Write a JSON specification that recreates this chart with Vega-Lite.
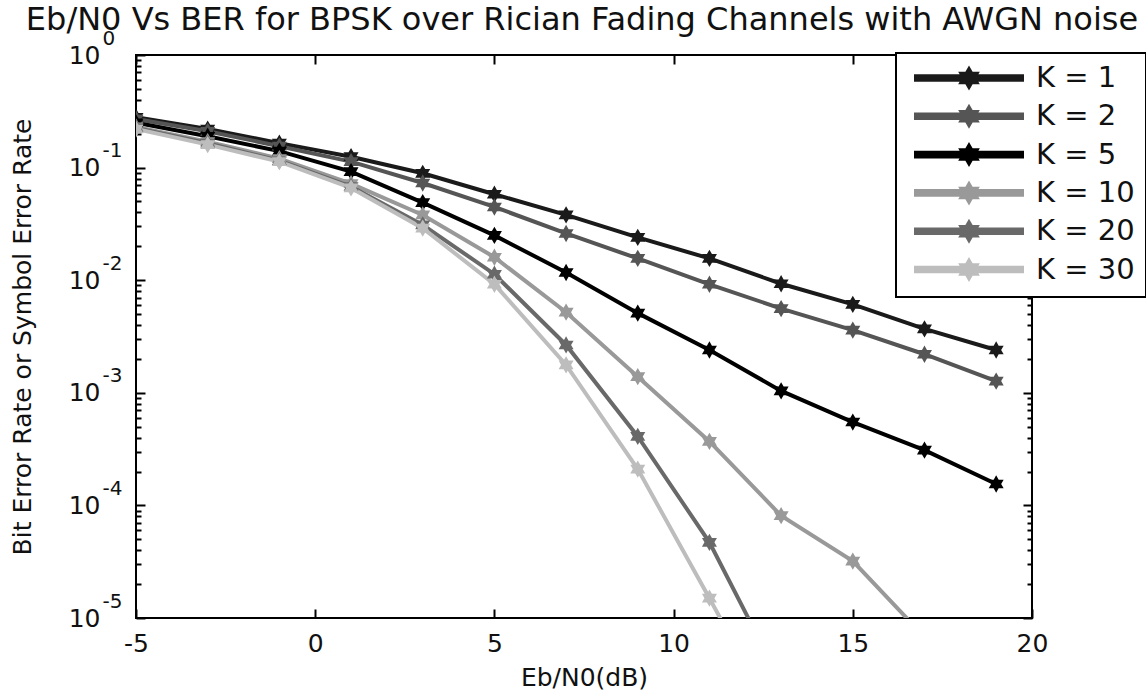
{
  "$schema": "https://vega.github.io/schema/vega-lite/v6.json",
  "width": 896,
  "height": 563,
  "autosize": {"type": "none"},
  "padding": {"left": 136, "top": 55, "right": 114, "bottom": 75},
  "background": "white",
  "title": {
    "text": "Eb/N0 Vs BER for BPSK over Rician Fading Channels with AWGN noise",
    "font": "DejaVu Sans",
    "fontSize": 32,
    "fontWeight": "normal",
    "color": "#111",
    "anchor": "middle",
    "dx": -2,
    "dy": 17,
    "baseline": "bottom",
    "offset": -24
  },
  "data": {
    "values": [
      {"series": "K = 1", "x": -5, "ber": 0.28},
      {"series": "K = 1", "x": -3, "ber": 0.22},
      {"series": "K = 1", "x": -1, "ber": 0.165},
      {"series": "K = 1", "x": 1, "ber": 0.125},
      {"series": "K = 1", "x": 3, "ber": 0.089},
      {"series": "K = 1", "x": 5, "ber": 0.058},
      {"series": "K = 1", "x": 7, "ber": 0.038},
      {"series": "K = 1", "x": 9, "ber": 0.024},
      {"series": "K = 1", "x": 11, "ber": 0.0156},
      {"series": "K = 1", "x": 13, "ber": 0.0093},
      {"series": "K = 1", "x": 15, "ber": 0.0061},
      {"series": "K = 1", "x": 17, "ber": 0.0037},
      {"series": "K = 1", "x": 19, "ber": 0.0024},
      {"series": "K = 2", "x": -5, "ber": 0.27},
      {"series": "K = 2", "x": -3, "ber": 0.21},
      {"series": "K = 2", "x": -1, "ber": 0.155},
      {"series": "K = 2", "x": 1, "ber": 0.113},
      {"series": "K = 2", "x": 3, "ber": 0.073},
      {"series": "K = 2", "x": 5, "ber": 0.0447},
      {"series": "K = 2", "x": 7, "ber": 0.026},
      {"series": "K = 2", "x": 9, "ber": 0.0156},
      {"series": "K = 2", "x": 11, "ber": 0.0092},
      {"series": "K = 2", "x": 13, "ber": 0.0056},
      {"series": "K = 2", "x": 15, "ber": 0.0036},
      {"series": "K = 2", "x": 17, "ber": 0.0022},
      {"series": "K = 2", "x": 19, "ber": 0.00127},
      {"series": "K = 5", "x": -5, "ber": 0.25},
      {"series": "K = 5", "x": -3, "ber": 0.19},
      {"series": "K = 5", "x": -1, "ber": 0.14},
      {"series": "K = 5", "x": 1, "ber": 0.092},
      {"series": "K = 5", "x": 3, "ber": 0.0488},
      {"series": "K = 5", "x": 5, "ber": 0.025},
      {"series": "K = 5", "x": 7, "ber": 0.0117},
      {"series": "K = 5", "x": 9, "ber": 0.0051},
      {"series": "K = 5", "x": 11, "ber": 0.0024},
      {"series": "K = 5", "x": 13, "ber": 0.00104},
      {"series": "K = 5", "x": 15, "ber": 0.00055},
      {"series": "K = 5", "x": 17, "ber": 0.00031},
      {"series": "K = 5", "x": 19, "ber": 0.000155},
      {"series": "K = 10", "x": -5, "ber": 0.23},
      {"series": "K = 10", "x": -3, "ber": 0.17},
      {"series": "K = 10", "x": -1, "ber": 0.12},
      {"series": "K = 10", "x": 1, "ber": 0.072},
      {"series": "K = 10", "x": 3, "ber": 0.038},
      {"series": "K = 10", "x": 5, "ber": 0.016},
      {"series": "K = 10", "x": 7, "ber": 0.0052},
      {"series": "K = 10", "x": 9, "ber": 0.00139},
      {"series": "K = 10", "x": 11, "ber": 0.00037},
      {"series": "K = 10", "x": 13, "ber": 0.000081},
      {"series": "K = 10", "x": 15, "ber": 0.000032},
      {"series": "K = 10", "x": 17, "ber": 0.0000068},
      {"series": "K = 20", "x": -5, "ber": 0.225},
      {"series": "K = 20", "x": -3, "ber": 0.165},
      {"series": "K = 20", "x": -1, "ber": 0.115},
      {"series": "K = 20", "x": 1, "ber": 0.068},
      {"series": "K = 20", "x": 3, "ber": 0.031},
      {"series": "K = 20", "x": 5, "ber": 0.0113},
      {"series": "K = 20", "x": 7, "ber": 0.00266},
      {"series": "K = 20", "x": 9, "ber": 0.00041},
      {"series": "K = 20", "x": 11, "ber": 0.000047},
      {"series": "K = 20", "x": 13, "ber": 0.0000027},
      {"series": "K = 30", "x": -5, "ber": 0.22},
      {"series": "K = 30", "x": -3, "ber": 0.16},
      {"series": "K = 30", "x": -1, "ber": 0.113},
      {"series": "K = 30", "x": 1, "ber": 0.066},
      {"series": "K = 30", "x": 3, "ber": 0.029},
      {"series": "K = 30", "x": 5, "ber": 0.0092},
      {"series": "K = 30", "x": 7, "ber": 0.00177},
      {"series": "K = 30", "x": 9, "ber": 0.00021},
      {"series": "K = 30", "x": 11, "ber": 0.000015},
      {"series": "K = 30", "x": 13, "ber": 0.000001}
    ]
  },
  "layer": [
    {
      "mark": {"type": "line", "clip": true},
      "encoding": {
        "x": {
          "field": "x",
          "type": "quantitative",
          "scale": {"domain": [-5, 20], "nice": false, "zero": false},
          "axis": {
            "orient": "bottom",
            "values": [-5, 0, 5, 10, 15, 20],
            "labelExpr": "'' + datum.value",
            "ticks": false,
            "labelPadding": 13,
            "labelFlush": false,
            "labelOverlap": false,
            "title": "Eb/N0(dB)",
            "titlePadding": 9
          }
        },
        "y": {
          "field": "ber",
          "type": "quantitative",
          "scale": {"type": "log", "domain": [0.00001, 1], "nice": false},
          "axis": {
            "orient": "left",
            "values": [0.00001, 0.0001, 0.001, 0.01, 0.1, 1],
            "labelExpr": "'10'",
            "ticks": false,
            "labelPadding": 36,
            "labelBaseline": "middle",
            "labelOverlap": false,
            "labelBound": false,
            "title": "Bit Error Rate or Symbol Error Rate",
            "titlePadding": 33
          }
        },
        "color": {
          "field": "series",
          "type": "nominal",
          "scale": {
            "domain": ["K = 1", "K = 2", "K = 5", "K = 10", "K = 20", "K = 30"],
            "range": ["#1a1a1a", "#555555", "#000000", "#999999", "#696969", "#bdbdbd"]
          },
          "legend": {
            "orient": "none",
            "legendX": 760,
            "legendY": -2,
            "title": null,
            "symbolType": "M-5.3,-0.18L5.3,-0.18L5.3,0.18L-5.3,0.18Z M0,-0.85L0.246,-0.425L0.736,-0.425L0.49,0L0.736,0.425L0.246,0.425L0,0.85L-0.246,0.425L-0.736,0.425L-0.49,0L-0.736,-0.425L-0.246,-0.425Z",
            "symbolSize": 400,
            "symbolStrokeWidth": 0,
            "symbolOffset": 48,
            "labelOffset": 52.5,
            "labelFont": "DejaVu Sans",
            "labelFontSize": 29,
            "labelColor": "#111",
            "labelLimit": 300,
            "padding": 10.5,
            "rowPadding": 5.3,
            "strokeColor": "#000",
            "fillColor": "#ffffff",
            "encode": {
              "symbols": {
                "update": {
                  "fill": {"scale": "color", "field": "value"},
                  "stroke": {"value": "transparent"},
                  "opacity": {"value": 1}
                }
              }
            }
          }
        },
        "strokeWidth": {
          "field": "series",
          "type": "ordinal",
          "scale": {
            "domain": ["K = 1", "K = 2", "K = 5", "K = 10", "K = 20", "K = 30"],
            "range": [4, 4, 3, 3, 2.5, 2.5]
          },
          "legend": null
        }
      }
    },
    {
      "mark": {
        "type": "point",
        "shape": "M0,-1L0.289,-0.5L0.866,-0.5L0.577,0L0.866,0.5L0.289,0.5L0,1L-0.289,0.5L-0.866,0.5L-0.577,0L-0.866,-0.5L-0.289,-0.5Z",
        "filled": true,
        "size": 300,
        "opacity": 1,
        "clip": true
      },
      "encoding": {
        "x": {"field": "x", "type": "quantitative", "axis": null},
        "y": {"field": "ber", "type": "quantitative", "axis": null},
        "color": {"field": "series", "type": "nominal", "legend": null}
      }
    },
    {
      "mark": {"type": "point", "opacity": 0},
      "encoding": {
        "x": {
          "field": "x",
          "type": "quantitative",
          "axis": {"orient": "top", "values": [-5, 0, 5, 10, 15, 20], "labels": false, "tickSize": -9, "title": null}
        },
        "y": {
          "field": "ber",
          "type": "quantitative",
          "axis": {
            "orient": "left",
            "values": [0.00001, 0.0001, 0.001, 0.01, 0.1, 1],
            "labelExpr": "'' + round(log(datum.value) / LN10)",
            "ticks": false,
            "labelAlign": "left",
            "labelBaseline": "middle",
            "labelPadding": 34,
            "labelOffset": -17,
            "labelFontSize": 20,
            "labelOverlap": false,
            "labelBound": false,
            "title": null
          }
        }
      }
    },
    {
      "mark": {"type": "point", "opacity": 0},
      "encoding": {
        "x": {
          "field": "x",
          "type": "quantitative",
          "axis": {"orient": "bottom", "values": [-5, 0, 5, 10, 15, 20], "labels": false, "tickSize": -9, "title": null}
        },
        "y": {
          "field": "ber",
          "type": "quantitative",
          "axis": {"orient": "left", "values": [0.00001, 0.0001, 0.001, 0.01, 0.1, 1], "labels": false, "tickSize": -9, "title": null}
        }
      }
    },
    {
      "mark": {"type": "point", "opacity": 0},
      "encoding": {
        "x": {"field": "x", "type": "quantitative", "axis": null},
        "y": {
          "field": "ber",
          "type": "quantitative",
          "axis": {
            "orient": "left",
            "values": [0.00002, 0.00003, 0.00004, 0.00005, 0.00006, 0.00007, 0.00008, 0.00009, 0.0002, 0.0003, 0.0004, 0.0005, 0.0006, 0.0007, 0.0008, 0.0009, 0.002, 0.003, 0.004, 0.005, 0.006, 0.007, 0.008, 0.009, 0.02, 0.03, 0.04, 0.05, 0.06, 0.07, 0.08, 0.09, 0.2, 0.3, 0.4, 0.5, 0.6, 0.7, 0.8, 0.9],
            "labels": false,
            "tickSize": -5,
            "title": null
          }
        }
      }
    },
    {
      "mark": {"type": "point", "opacity": 0},
      "encoding": {
        "x": {"field": "x", "type": "quantitative", "axis": null},
        "y": {
          "field": "ber",
          "type": "quantitative",
          "axis": {"orient": "right", "values": [0.00001, 0.0001, 0.001, 0.01, 0.1, 1], "labels": false, "tickSize": -9, "title": null}
        }
      }
    },
    {
      "mark": {"type": "point", "opacity": 0},
      "encoding": {
        "x": {"field": "x", "type": "quantitative", "axis": null},
        "y": {
          "field": "ber",
          "type": "quantitative",
          "axis": {
            "orient": "right",
            "values": [0.00002, 0.00003, 0.00004, 0.00005, 0.00006, 0.00007, 0.00008, 0.00009, 0.0002, 0.0003, 0.0004, 0.0005, 0.0006, 0.0007, 0.0008, 0.0009, 0.002, 0.003, 0.004, 0.005, 0.006, 0.007, 0.008, 0.009, 0.02, 0.03, 0.04, 0.05, 0.06, 0.07, 0.08, 0.09, 0.2, 0.3, 0.4, 0.5, 0.6, 0.7, 0.8, 0.9],
            "labels": false,
            "tickSize": -5,
            "title": null
          }
        }
      }
    }
  ],
  "resolve": {"axis": {"x": "independent", "y": "independent"}},
  "config": {
    "view": {"stroke": "#000", "strokeWidth": 2},
    "axis": {
      "grid": false,
      "domain": false,
      "tickColor": "#000",
      "tickWidth": 2,
      "labelFont": "DejaVu Sans",
      "labelFontSize": 25,
      "labelColor": "#111",
      "titleFont": "DejaVu Sans",
      "titleFontSize": 25,
      "titleFontWeight": "normal",
      "titleColor": "#111"
    },
    "legend": {"strokeWidth": 2}
  }
}
